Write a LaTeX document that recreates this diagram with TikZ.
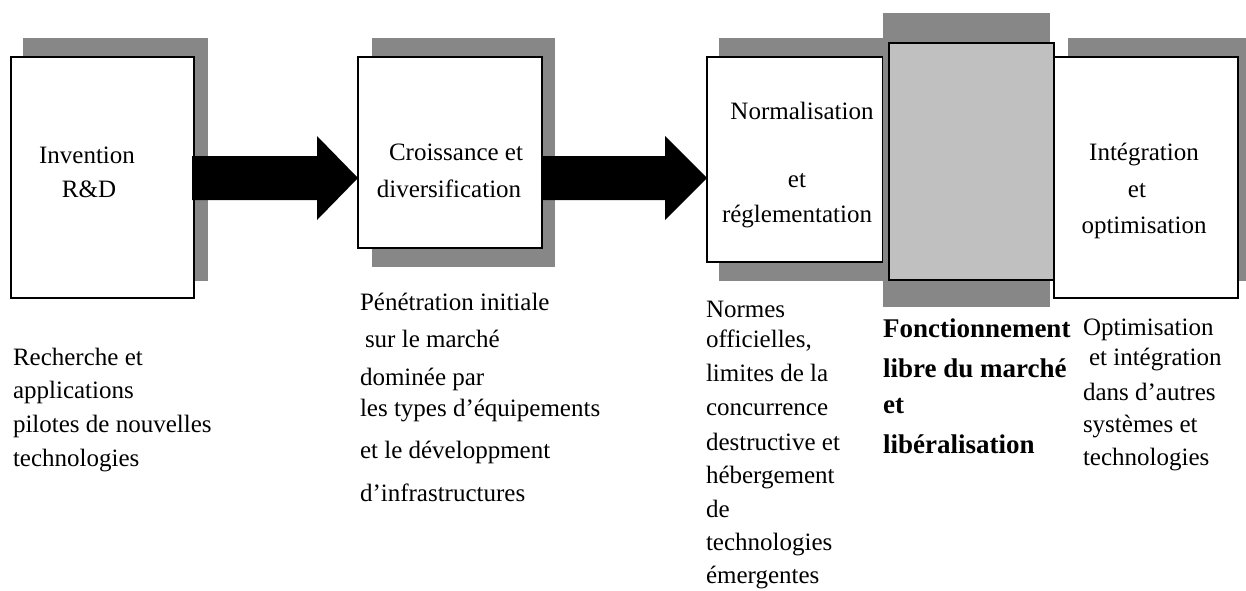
\documentclass[tikz,border=0pt]{standalone}
\usepackage{fontspec}
\setmainfont{Liberation Serif}
\usetikzlibrary{calc}
\definecolor{shade}{RGB}{135,135,135}
\definecolor{midgray}{RGB}{192,192,192}
\tikzset{
  wbox/.style={draw=black, fill=white, line width=1.3pt, inner sep=0pt, outer sep=0pt, anchor=north west},
  gbox/.style={wbox, fill=midgray},
  shadowfill/.style={fill=shade},
  txt/.style={inner sep=0pt, outer sep=0pt, font=\fontsize{25}{30}\selectfont},
  btxt/.style={inner sep=0pt, outer sep=0pt, font=\fontsize{27}{32}\selectfont\bfseries},
  blockarrow/.style={fill=black},
}
\begin{document}
\begin{tikzpicture}[x=1pt,y=-1pt]
\path[use as bounding box] (0,0) rectangle (1246,590);
\fill[white] (0,0) rectangle (1246,590);

% box 1
\fill[shadowfill] (23,38) rectangle (208,281);
\node[wbox, minimum width=183pt, minimum height=241pt] (b1) at (11,57) {};
% box 2
\fill[shadowfill] (372,38) rectangle (555,267);
\node[wbox, minimum width=184pt, minimum height=191pt] (b2) at (358,57) {};
% box 3
\fill[shadowfill] (719,38) rectangle (889,281);
\node[wbox, minimum width=176pt, minimum height=205pt] (b3) at (707,57) {};
% box 4 (grey)
\fill[shadowfill] (883,13) rectangle (1050,307);
\node[gbox, minimum width=165pt, minimum height=237pt] (b4) at (889,43) {};
% box 5
\fill[shadowfill] (1068,38) rectangle (1246,281);
\node[wbox, minimum width=184pt, minimum height=241pt] (b5) at (1054,57) {};

% arrows
\coordinate (m) at (0,178);
\coordinate (t1) at (b2.west |- m);
\coordinate (s1) at (b1.east |- m);
\fill[blockarrow] ($(s1)+(-2,-22)$) -- ($(t1)+(-41,-22)$) -- ($(t1)+(-41,-42)$) -- (t1)
  -- ($(t1)+(-41,42)$) -- ($(t1)+(-41,22)$) -- ($(s1)+(-2,22)$) -- cycle;
\coordinate (t2) at (b3.west |- m);
\coordinate (s2) at (b2.east |- m);
\fill[blockarrow] ($(s2)+(0,-22)$) -- ($(t2)+(-42,-22)$) -- ($(t2)+(-42,-42)$) -- (t2)
  -- ($(t2)+(-42,42)$) -- ($(t2)+(-42,22)$) -- ($(s2)+(0,22)$) -- cycle;

% texts inside boxes
\node[txt, anchor=base] (b1a) at (87,163) {Invention};
\node[txt, anchor=base] (b1b) at (89,197) {R\&D};
\node[txt, anchor=base] (b2a) at (456,160) {Croissance et};
\node[txt, anchor=base] (b2b) at (449,197) {diversification};
\node[txt, anchor=base] (b3a) at (802,119) {Normalisation};
\node[txt, anchor=base] (b3b) at (797,187) {et};
\node[txt, anchor=base] (b3c) at (797,222) {réglementation};
\node[txt, anchor=base] (b5a) at (1144,160) {Intégration};
\node[txt, anchor=base] (b5b) at (1137,197) {et};
\node[txt, anchor=base] (b5c) at (1144,233) {optimisation};

% column 1
\node[txt, anchor=base west] (c1a) at (13,365) {Recherche et};
\node[txt, anchor=base west] (c1b) at (13,398) {applications};
\node[txt, anchor=base west] (c1c) at (13,432) {pilotes de nouvelles};
\node[txt, anchor=base west] (c1d) at (13,466) {technologies};

% column 2
\node[txt, anchor=base west] (c2a) at (360,310) {Pénétration initiale};
\node[txt, anchor=base west] (c2b) at (365,347) {sur le marché};
\node[txt, anchor=base west] (c2c) at (360,385) {dominée par};
\node[txt, anchor=base west] (c2d) at (360,416) {les types d’équipements};
\node[txt, anchor=base west] (c2e) at (360,458) {et le développment};
\node[txt, anchor=base west] (c2f) at (360,501) {d’infrastructures};

% column 3
\node[txt, anchor=base west] (c3a) at (706,317) {Normes};
\node[txt, anchor=base west] (c3b) at (706,347) {officielles,};
\node[txt, anchor=base west] (c3c) at (706,381) {limites de la};
\node[txt, anchor=base west] (c3d) at (706,415) {concurrence};
\node[txt, anchor=base west] (c3e) at (706,450) {destructive et};
\node[txt, anchor=base west] (c3f) at (706,483) {hébergement};
\node[txt, anchor=base west] (c3g) at (706,517) {de};
\node[txt, anchor=base west] (c3h) at (706,550) {technologies};
\node[txt, anchor=base west] (c3i) at (706,583) {émergentes};

% column 4 (bold)
\node[btxt, anchor=base west] (c4a) at (883,337) {Fonctionnement};
\node[btxt, anchor=base west] (c4b) at (883,377) {libre du marché};
\node[btxt, anchor=base west] (c4c) at (883,413) {et};
\node[btxt, anchor=base west] (c4d) at (883,453) {libéralisation};

% column 5
\node[txt, anchor=base west] (c5a) at (1083,335) {Optimisation};
\node[txt, anchor=base west] (c5b) at (1089,365) {et intégration};
\node[txt, anchor=base west] (c5c) at (1083,400) {dans d’autres};
\node[txt, anchor=base west] (c5d) at (1083,432) {systèmes et};
\node[txt, anchor=base west] (c5e) at (1083,465) {technologies};
\end{tikzpicture}
\end{document}
